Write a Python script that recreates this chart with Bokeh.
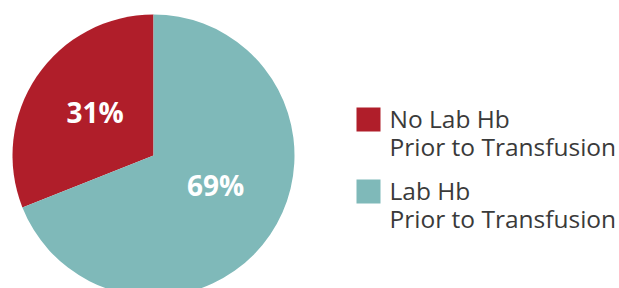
import numpy as np
from bokeh.plotting import figure
from bokeh.models import Range1d
from bokeh.core.properties import value
from bokeh.embed import file_html
from bokeh.resources import INLINE

labels = ["No Lab Hb\nPrior to Transfusion", "Lab Hb\nPrior to Transfusion"]
values = [31, 69]
pct_labels = ["31%", "69%"]
colors = ["#B01E2A", "#7FB9B9"]

W, H = 619, 288
p = figure(width=W, height=H, output_backend="svg", toolbar_location=None,
           x_range=Range1d(0, W), y_range=Range1d(0, H), min_border=0)
p.axis.visible = False
p.grid.visible = False
p.outline_line_color = None
p.background_fill_color = "white"

cx, cy, R = 153, 133, 141
vals = np.array(values, dtype=float)
fr = vals / vals.sum()
ends = np.pi / 2 + 2 * np.pi * np.cumsum(fr)
starts = np.concatenate([[np.pi / 2], ends[:-1]])
p.wedge(x=cx, y=cy, radius=R, start_angle=starts, end_angle=ends,
        fill_color=colors, line_color=None)

mids = (starts + ends) / 2
lr = np.array([0.5, 0.5]) * R
mids_adj = mids + np.radians([0, 6])
p.text(x=cx + lr * np.cos(mids_adj), y=cy + lr * np.sin(mids_adj), text=pct_labels,
       text_color="white", text_font=value("Open Sans"), text_font_size="28px",
       text_font_style="bold", text_align="center", text_baseline="middle",
       y_offset=-4)

# legend
lx, ly0, step, sq = 356, 181, 72, 24
for i, (lab, col) in enumerate(zip(labels, colors)):
    top = ly0 - i * step
    p.rect(x=lx + sq / 2, y=top - sq / 2, width=sq, height=sq, fill_color=col, line_color=None)
    for j, line in enumerate(lab.split("\n")):
        p.text(x=[lx + 33], y=[top - 11 - j * 28], text=[line], text_color="#3a3a3a",
               text_font=value("Open Sans"), text_font_size="24.5px",
               text_align="left", text_baseline="alphabetic")

open("out.html", "w").write(file_html(p, INLINE))
